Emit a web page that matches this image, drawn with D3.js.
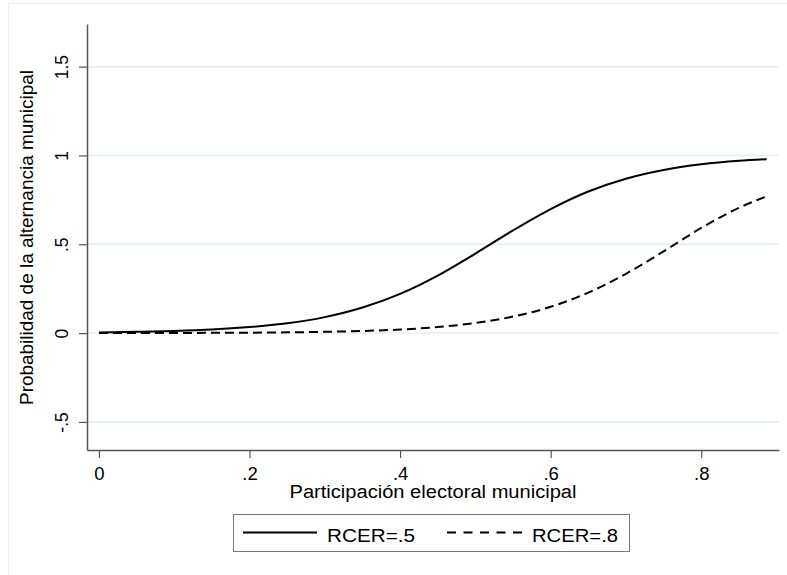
<!DOCTYPE html>
<html>
<head>
<meta charset="utf-8">
<script src="https://cdn.jsdelivr.net/npm/d3@7"></script>
<style>
  body { margin: 0; background: #fff; }
  text { font-family: "Liberation Sans", Arial, sans-serif; fill: #000; }
</style>
</head>
<body>
<svg id="chart" width="787" height="575"></svg>
<script>
// ---- data ----
const participation = [0, 0.05, 0.1, 0.15, 0.2, 0.25, 0.3, 0.35, 0.4, 0.45, 0.5, 0.55, 0.6, 0.65, 0.7, 0.75, 0.8, 0.85, 0.887];
const rcer05 = [0.004, 0.007, 0.012, 0.020, 0.034, 0.055, 0.090, 0.144, 0.221, 0.324, 0.448, 0.578, 0.698, 0.797, 0.869, 0.918, 0.950, 0.970, 0.979];
const rcer08 = [0.0003, 0.0005, 0.0009, 0.0015, 0.0025, 0.0042, 0.0072, 0.012, 0.020, 0.034, 0.057, 0.093, 0.148, 0.228, 0.334, 0.460, 0.592, 0.705, 0.770];
const xTicks = [0, 0.2, 0.4, 0.6, 0.8];
const xTickLabels = ["0", ".2", ".4", ".6", ".8"];
const yTicks = [-0.5, 0, 0.5, 1, 1.5];
const yTickLabels = ["-.5", "0", ".5", "1", "1.5"];
const seriesNames = ["RCER=.5", "RCER=.8"];
const xTitle = "Participación electoral municipal";
const yTitle = "Probabilidad de la alternancia municipal";

// ---- layout ----
const svg = d3.select("#chart");
const plotLeft = 87, plotRight = 779, plotTop = 24, plotBottom = 450;
const FONT = "'Liberation Sans', Arial, sans-serif";

const x = d3.scaleLinear().domain([-0.0159, 0.9033]).range([plotLeft, plotRight]);
const y = d3.scaleLinear().domain([-0.658, 1.740]).range([plotBottom, plotTop]);

// faint outer frame (top/left)
svg.append("line").attr("x1", 8).attr("x2", 787).attr("y1", 3.5).attr("y2", 3.5)
  .attr("stroke", "#eef0f0").attr("stroke-width", 1);
svg.append("line").attr("x1", 8.5).attr("x2", 8.5).attr("y1", 3).attr("y2", 575)
  .attr("stroke", "#eef0f0").attr("stroke-width", 1);

// gridlines
svg.append("g").selectAll("line").data(yTicks).join("line")
  .attr("x1", plotLeft).attr("x2", plotRight)
  .attr("y1", d => y(d)).attr("y2", d => y(d))
  .attr("stroke", "#e6eef0").attr("stroke-width", 1.5);

// y axis
const yAxis = svg.append("g").attr("transform", `translate(${plotLeft},0)`)
  .call(d3.axisLeft(y).tickValues(yTicks).tickFormat((d, i) => yTickLabels[i]).tickSize(8).tickSizeOuter(0));
yAxis.select(".domain").attr("stroke", "#555").attr("stroke-width", 1.5);
yAxis.selectAll(".tick line").attr("stroke", "#555").attr("stroke-width", 1.2);
yAxis.selectAll(".tick text")
  .attr("x", 0).attr("y", 0)
  .attr("dy", null)
  .attr("text-anchor", "middle")
  .attr("transform", "translate(-19,0) rotate(-90)")
  .style("font-size", "17.5px")
  .style("font-family", FONT)
  .attr("fill", "#000");

// x axis
const xAxis = svg.append("g").attr("transform", `translate(0,${plotBottom})`)
  .call(d3.axisBottom(x).tickValues(xTicks).tickFormat((d, i) => xTickLabels[i]).tickSize(8).tickSizeOuter(0));
xAxis.select(".domain").attr("stroke", "#555").attr("stroke-width", 1.5);
xAxis.selectAll(".tick line").attr("stroke", "#555").attr("stroke-width", 1.2);
xAxis.selectAll(".tick text")
  .attr("y", 29.5).attr("dy", null)
  .style("font-size", "18.5px")
  .style("font-family", FONT)
  .attr("fill", "#000");

// axis titles
svg.append("text").attr("x", 433).attr("y", 498).attr("text-anchor", "middle")
  .style("font-size", "18px")
  .attr("textLength", 287).attr("lengthAdjust", "spacingAndGlyphs")
  .text(xTitle);
svg.append("text").attr("transform", "translate(32.5,237.5) rotate(-90)").attr("text-anchor", "middle")
  .style("font-size", "17.5px")
  .attr("textLength", 335).attr("lengthAdjust", "spacingAndGlyphs")
  .text(yTitle);

// lines
const line = d3.line().x(d => x(d[0])).y(d => y(d[1])).curve(d3.curveMonotoneX);
const pts05 = participation.map((p, i) => [p, rcer05[i]]);
const pts08 = participation.map((p, i) => [p, rcer08[i]]);
svg.append("path").datum(pts05).attr("d", line)
  .attr("fill", "none").attr("stroke", "#000").attr("stroke-width", 2);
svg.append("path").datum(pts08).attr("d", line)
  .attr("fill", "none").attr("stroke", "#000").attr("stroke-width", 2)
  .attr("stroke-dasharray", "9,5");

// legend
const lg = svg.append("g");
lg.append("rect").attr("x", 233.5).attr("y", 514.5).attr("width", 396).attr("height", 37)
  .attr("fill", "#fff").attr("stroke", "#777").attr("stroke-width", 1);
lg.append("line").attr("x1", 243).attr("x2", 317).attr("y1", 532.5).attr("y2", 532.5)
  .attr("stroke", "#000").attr("stroke-width", 2);
lg.append("text").attr("x", 327).attr("y", 542).style("font-size", "18px")
  .attr("textLength", 88).attr("lengthAdjust", "spacingAndGlyphs").text(seriesNames[0]);
lg.append("line").attr("x1", 447).attr("x2", 522).attr("y1", 532.5).attr("y2", 532.5)
  .attr("stroke", "#000").attr("stroke-width", 2).attr("stroke-dasharray", "9,7.5");
lg.append("text").attr("x", 532).attr("y", 542).style("font-size", "18px")
  .attr("textLength", 86).attr("lengthAdjust", "spacingAndGlyphs").text(seriesNames[1]);
</script>
</body>
</html>
